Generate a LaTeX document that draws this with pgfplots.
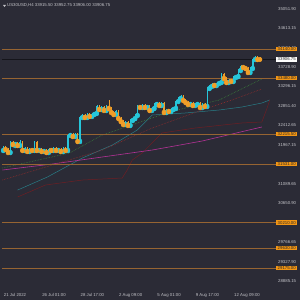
\documentclass[border=0pt]{standalone}
\usepackage{pgfplots}
\pgfplotsset{compat=1.18}
\usepackage{pgfplotstable}
\usepgfplotslibrary{fillbetween}
\usepackage{fontspec}
\setmainfont{Liberation Sans}
\definecolor{bg}{RGB}{43,43,54}
\definecolor{bull}{RGB}{38,198,218}
\definecolor{bear}{RGB}{240,158,40}
\definecolor{hline}{RGB}{150,100,50}
\definecolor{lab}{RGB}{243,150,20}
\definecolor{axisgray}{RGB}{130,130,140}
\definecolor{txtgray}{RGB}{195,195,200}
\definecolor{ma1}{RGB}{60,130,60}
\definecolor{ma2}{RGB}{150,45,45}
\definecolor{ma3}{RGB}{180,50,150}
\definecolor{kumoA}{RGB}{40,125,135}
\definecolor{kumoB}{RGB}{110,30,35}

\pgfplotstableread{
i o h l c
0 31855 31946 31833 31923
3 31810 32059 31787 32037
5 31991 32037 31946 32014
7 31969 32082 31946 32037
9 31855 31923 31833 31901
11 31833 31901 31810 31878
13 31855 32059 31833 32037
15 31855 31901 31833 31878
17 31833 31878 31810 31855
19 31810 31901 31787 31878
21 31855 31923 31833 31901
23 31855 31901 31833 31878
25 31833 31923 31810 31901
27 31855 32218 31833 32195
28 32195 32241 32173 32218
30 32173 32241 32150 32218
32 32059 32626 32037 32604
33 32604 32672 32581 32649
35 32604 32694 32581 32672
37 32626 32694 32604 32672
38 32672 32717 32649 32694
39 32694 32875 32672 32853
41 32785 32853 32762 32830
43 32762 32875 32740 32853
47 32672 32762 32649 32740
51 32445 32513 32422 32490
53 32422 32558 32400 32536
54 32536 32604 32513 32581
55 32581 32672 32558 32649
56 32649 32875 32626 32853
58 32830 32898 32808 32875
60 32830 32875 32808 32853
62 32762 32830 32740 32808
63 32808 32921 32785 32898
64 32898 32944 32875 32921
66 32875 32944 32853 32921
68 32717 32785 32694 32762
70 32740 32808 32717 32785
71 32785 32830 32762 32808
72 32808 32989 32785 32966
73 32966 33057 32944 33034
74 33034 33102 33012 33080
78 32898 32944 32875 32921
80 32875 32921 32853 32898
81 32898 32944 32875 32921
83 32830 32921 32808 32898
85 32853 33284 32830 33261
86 33261 33329 33238 33306
87 33306 33374 33284 33352
89 33329 33397 33306 33374
90 33374 33420 33352 33397
91 33397 33601 33374 33578
94 33397 33465 33374 33442
96 33420 33533 33397 33510
97 33510 33556 33488 33533
98 33533 33692 33510 33669
99 33669 33782 33646 33760
103 33624 33737 33601 33714
104 33714 33941 33692 33918
105 33918 33986 33896 33963
}\upbars

\pgfplotstableread{
i o h l c
1 31923 31946 31855 31878
2 31878 31901 31787 31810
4 32037 32059 31969 31991
6 32014 32037 31946 31969
8 32037 32059 31833 31855
10 31901 31923 31810 31833
12 31878 31901 31833 31855
14 32037 32059 31833 31855
16 31878 31901 31810 31833
18 31855 31878 31787 31810
20 31878 31901 31833 31855
22 31901 31923 31833 31855
24 31878 31901 31810 31833
26 31901 31923 31833 31855
29 32218 32241 32150 32173
31 32218 32241 32037 32059
34 32649 32672 32581 32604
36 32672 32694 32604 32626
40 32853 32875 32762 32785
42 32830 32853 32740 32762
44 32853 32989 32785 32808
45 32808 32830 32694 32717
46 32717 32740 32649 32672
48 32740 32762 32558 32581
49 32581 32604 32490 32513
50 32513 32536 32422 32445
52 32490 32513 32400 32422
57 32853 32875 32808 32830
59 32875 32898 32808 32830
61 32853 32875 32740 32762
65 32921 32944 32853 32875
67 32921 32944 32694 32717
69 32762 32785 32717 32740
75 33080 33102 32966 32989
76 32989 33012 32921 32944
77 32944 32966 32875 32898
79 32921 32944 32853 32875
82 32921 32944 32808 32830
84 32898 32921 32830 32853
88 33352 33374 33306 33329
92 33578 33601 33465 33488
93 33488 33510 33374 33397
95 33442 33465 33397 33420
100 33760 33782 33714 33737
101 33737 33760 33692 33714
102 33714 33737 33601 33624
106 33963 33986 33896 33918
107 33915.5 33952.75 33906 33906.75
}\downbars

\begin{document}
\begin{tikzpicture}
\fill[bg] (-2pt,-9pt) rectangle (298pt,291pt);
\begin{axis}[
  at={(0,0)}, anchor=south west,
  scale only axis, width=274pt, height=289pt,
  xmin=-0.5, xmax=113.7, ymin=28660, ymax=35210,
  clip=false,
  axis line style={draw=axisgray, line width=0.6pt},
  ytick={35051.90,34613.15,34174.40,33728.90,33296.15,32851.40,32412.65,31967.15,31528.40,31089.65,30650.90,30212.15,29766.65,29327.90,28885.15},
  yticklabels={35051.90,34613.15,34174.40,33728.90,33296.15,32851.40,32412.65,31967.15,31528.40,31089.65,30650.90,30212.15,29766.65,29327.90,28885.15},
  ytick pos=right, yticklabel pos=right,
  xtick={0,16,32,48,64,80,96},
  xticklabels={21 Jul 2022,26 Jul 01:00,28 Jul 17:00,2 Aug 09:00,5 Aug 01:00,9 Aug 17:00,12 Aug 09:00},
  xtick pos=bottom,
  tick align=outside, major tick length=2pt,
  tick style={draw=axisgray, line width=0.4pt},
  ticklabel style={font=\fontsize{4.3}{5}\selectfont, text=txtgray, inner sep=0.5pt},
  yticklabel style={anchor=west, xshift=-0.5pt},
  xticklabel style={anchor=north west, xshift=0pt, yshift=0pt},
  scaled y ticks=false,
]
% Ichimoku cloud
\addplot[name path=ka, kumoA, line width=0.5pt] coordinates {
(6,30948) (18.4,31243) (33,31674) (45.5,31969) (55.9,32309) (62.1,32649) (75.8,32694) (90,32762) (99.5,32830) (107.8,32921) (111.1,32989)};
\addplot[name path=kb, kumoB, line width=0.5pt] coordinates {
(6,30790) (17.6,31062) (33,31175) (49.6,31221) (51.7,31402) (53.8,31629) (57.9,31787) (66.2,32241) (80,32354) (99.5,32468) (107.8,32490) (110,32808) (111.1,32989)};
\addplot[kumoA, fill opacity=0.45] fill between[of=ka and kb];
% moving averages
\addplot[ma3, line width=0.6pt] coordinates {(-0.3,31402) (20.5,31538) (41.3,31697) (62.1,31855) (82.9,32059) (107.8,32377)};
\addplot[ma2, densely dotted, line width=0.6pt] coordinates {(-0.3,31175) (20.5,31515) (41.3,31855) (62.1,32354) (82.9,32762) (95.3,32989) (107.8,33238)};
\addplot[ma1, densely dotted, line width=0.6pt] coordinates {(-0.3,31447) (27.6,31787) (41.3,32195) (62.1,32581) (69.1,32717) (90,32989) (107.8,33465)};
% horizontal levels
\foreach \v in {34140,33480,32215.5,31531,30210,29630,29175}{
  \edef\temp{\noexpand\addplot[hline, line width=0.6pt] coordinates {(-0.5,\v) (113.7,\v)};}
  \temp
}
\addplot[black!50!bg, line width=0.5pt] coordinates {(-0.5,33906.75) (113.7,33906.75)};
% candles: wicks then bodies
\addplot[only marks, mark=none, bull, error bars/.cd, y dir=plus, y explicit, error mark=none, error bar style={line width=0.45pt, bull}]
  table[x=i, y=l, y error plus expr=\thisrow{h}-\thisrow{l}] {\upbars};
\addplot[only marks, mark=none, bull, error bars/.cd, y dir=plus, y explicit, error mark=none, error bar style={line width=1.1pt, bull}]
  table[x=i, y=o, y error plus expr=\thisrow{c}-\thisrow{o}] {\upbars};
\addplot[only marks, mark=none, bear, error bars/.cd, y dir=plus, y explicit, error mark=none, error bar style={line width=0.45pt, bear}]
  table[x=i, y=l, y error plus expr=\thisrow{h}-\thisrow{l}] {\downbars};
\addplot[only marks, mark=none, bear, error bars/.cd, y dir=plus, y explicit, error mark=none, error bar style={line width=1.1pt, bear}]
  table[x=i, y=c, y error plus expr=\thisrow{o}-\thisrow{c}] {\downbars};
% price labels
\foreach \v/\t in {34140/34140.00,33480/33480.00,32215.5/32215.50,31531/31531.00,30210/30210.00,29630/29630.00,29175/29175.00}{
  \edef\temp{\noexpand\node[fill=lab, text=black!85, font=\noexpand\fontsize{4.3}{5}\noexpand\selectfont, inner sep=0.6pt, anchor=west, minimum width=21pt] at ({rel axis cs:1,0}|-{axis cs:0,\v}) {\t};}
  \temp
}
\node[fill=white, text=black!85, font=\fontsize{4.3}{5}\selectfont, inner sep=0.6pt, anchor=west, minimum width=21pt] at ({rel axis cs:1,0}|-{axis cs:0,33906.75}) {33906.75};
\node[anchor=north west, text=txtgray, font=\fontsize{4.3}{5}\selectfont, inner sep=0pt] at ([xshift=5pt,yshift=-1.5pt]rel axis cs:0,1) {US30USD,H4 33915.50 33952.75 33906.00 33906.75};
\end{axis}
\fill[txtgray] (1pt,286pt) -- (4pt,286pt) -- (2.5pt,284pt) -- cycle;
\pgfresetboundingbox
\path[use as bounding box] (-2pt,-9pt) rectangle (298pt,291pt);
\end{tikzpicture}
\end{document}
